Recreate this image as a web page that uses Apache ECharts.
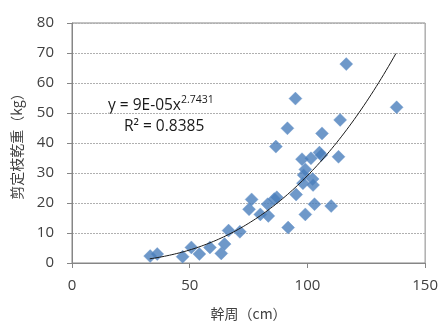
<!DOCTYPE html>
<html><head><meta charset="utf-8">
<script src="https://cdn.jsdelivr.net/npm/echarts@6/dist/echarts.min.js"></script>
<style>html,body{margin:0;padding:0;background:#fff}#c{width:441px;height:327px}</style>
</head><body><div id="c"></div>
<script>
// 幹周 (cm)
var girth = [33.2,36.2,47.0,50.7,54.1,58.6,63.4,64.8,66.5,71.3,75.2,76.3,80.0,83.4,83.1,85.9,87.0,86.6,91.5,91.8,95.2,97.7,99.1,98.4,98.1,99.1,101.5,102.2,102.4,103.0,105.1,105.9,106.2,110.1,113.2,113.9,116.5,94.9,137.9];
// 剪定枝乾重 (kg)
var weight = [2.3,3.0,2.1,5.2,3.0,5.2,3.2,6.3,10.8,10.4,17.9,21.2,16.2,15.7,19.6,21.3,21.9,38.8,44.9,11.8,22.8,34.6,31.2,29.3,26.6,16.2,34.9,28.0,26.0,19.6,36.8,36.0,43.2,19.0,35.4,47.7,66.3,54.8,51.9];
var xTicks = [0,50,100,150];
var yTicks = [0,10,20,30,40,50,60,70,80];
// power trendline y = a x^b (as displayed)
var trendA = 9.5e-5, trendB = 2.7431, trendFrom = 33, trendTo = 137.6;

var pts = girth.map(function(g,i){return [g, weight[i]];});
var curve = [];
for (var k = 0; k <= 100; k++) {
  var x = trendFrom + (trendTo - trendFrom) * k / 100;
  curve.push([x, trendA * Math.pow(x, trendB)]);
}
var txt = '#404040', axisCol = '#868686';
var chart = echarts.init(document.getElementById('c'));
chart.setOption({
  animation: false,
  grid: {left: 72, right: 14, top: 23, bottom: 64, show: true, borderColor: axisCol, borderWidth: 1},
  xAxis: {
    type: 'value', min: 0, max: 150, interval: 50,
    name: '幹周（cm）', nameLocation: 'middle', nameGap: 44,
    nameTextStyle: {color: txt, fontSize: 14, fontFamily: 'Noto Sans CJK JP'},
    axisLine: {show: true, lineStyle: {color: axisCol}},
    axisTick: {show: true, length: 5, lineStyle: {color: axisCol}},
    axisLabel: {color: txt, fontSize: 15, margin: 15, fontFamily: 'Open Sans'},
    splitLine: {show: false}
  },
  yAxis: {
    type: 'value', min: 0, max: 80, interval: 10,
    name: '剪定枝乾重（kg）', nameLocation: 'middle', nameGap: 48, nameRotate: 90,
    nameTextStyle: {color: txt, fontSize: 14, fontFamily: 'Noto Sans CJK JP'},
    axisLine: {show: true, lineStyle: {color: axisCol}},
    axisTick: {show: true, length: 5, lineStyle: {color: axisCol}},
    axisLabel: {color: txt, fontSize: 15, margin: 18, fontFamily: 'Open Sans'},
    splitLine: {show: true, lineStyle: {color: '#b0b0b0', type: [2, 1], width: 1}}
  },
  series: [
    {type: 'scatter', data: pts, symbol: 'diamond', symbolSize: 13,
     itemStyle: {color: '#4A7EBB', borderColor: '#6E98CC', borderWidth: 0.5}, z: 3},
    {type: 'line', data: curve, showSymbol: false, smooth: false,
     lineStyle: {color: '#1a1a1a', width: 1}, z: 4}
  ],
  graphic: [
    {type: 'text', left: 108, top: 95, style: {
      text: '{n|y = 9E-05x}{s|2.7431}', fill: '#1a1a1a',
      rich: {n: {fontSize: 15.5, fontFamily: 'Open Sans', fill: '#1a1a1a', verticalAlign: 'bottom'},
             s: {fontSize: 10.5, fontFamily: 'Open Sans', fill: '#1a1a1a', verticalAlign: 'top', padding: [0,0,8,0]}}}},
    {type: 'text', left: 124, top: 119, style: {
      text: 'R² = 0.8385', fill: '#1a1a1a', fontSize: 15.5, fontFamily: 'Open Sans'}}
  ]
});
</script></body></html>
